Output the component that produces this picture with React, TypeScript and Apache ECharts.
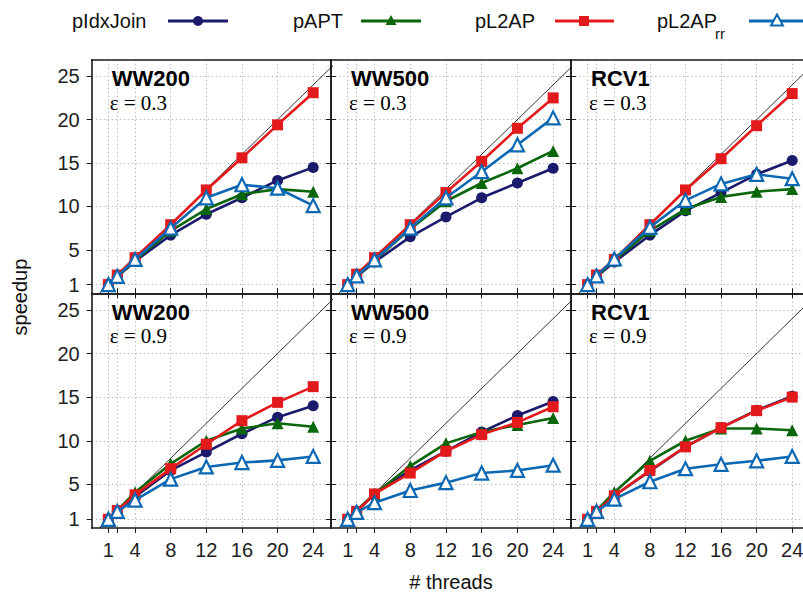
import React, { useEffect, useRef } from "react";
import * as echarts from "echarts";

const threads = [1, 2, 4, 8, 12, 16, 20, 24];
const xTickValues = [1, 2, 4, 8, 12, 16, 20, 24];
const xLabelValues = [1, 4, 8, 12, 16, 20, 24];
const yTickValues = [1, 5, 10, 15, 20, 25];

const methods = ["pIdxJoin", "pAPT", "pL2AP", "pL2AP_rr"];

// Panel data (speedup per thread count)
const ww200_e03 = {
  pIdxJoin: [1, 1.9, 3.7, 6.7, 9.1, 11.0, 13.0, 14.5],
  pAPT: [1, 1.95, 3.8, 7.2, 9.7, 11.4, 12.0, 11.7],
  pL2AP: [1, 2.1, 4.1, 7.9, 11.9, 15.6, 19.4, 23.1],
  pL2AP_rr: [1, 1.95, 3.9, 7.5, 11.0, 12.5, 12.1, 10.1],
};
const ww500_e03 = {
  pIdxJoin: [1, 1.9, 3.6, 6.5, 8.8, 11.0, 12.7, 14.4],
  pAPT: [1, 1.95, 3.8, 7.4, 10.6, 12.7, 14.4, 16.4],
  pL2AP: [1, 2.2, 4.1, 7.9, 11.6, 15.2, 19.0, 22.5],
  pL2AP_rr: [1, 2.0, 3.85, 7.5, 11.0, 14.0, 17.1, 20.2],
};
const rcv1_e03 = {
  pIdxJoin: [1, 1.9, 3.6, 6.7, 9.5, 11.6, 13.7, 15.3],
  pAPT: [1, 1.95, 3.8, 7.2, 9.7, 11.1, 11.7, 12.0],
  pL2AP: [1, 2.1, 3.9, 7.9, 11.9, 15.5, 19.3, 23.0],
  pL2AP_rr: [1, 2.0, 3.95, 7.6, 10.7, 12.6, 13.7, 13.2],
};
const ww200_e09 = {
  pIdxJoin: [1, 1.9, 3.6, 6.6, 8.7, 10.8, 12.7, 14.0],
  pAPT: [1, 2.0, 4.1, 7.35, 10.0, 11.4, 12.0, 11.6],
  pL2AP: [1, 2.0, 3.8, 6.8, 9.6, 12.3, 14.4, 16.2],
  pL2AP_rr: [1, 1.9, 3.2, 5.6, 7.0, 7.5, 7.75, 8.2],
};
const ww500_e09 = {
  pIdxJoin: [1, 1.9, 3.9, 6.6, 8.8, 11.0, 12.9, 14.5],
  pAPT: [1, 2.0, 3.9, 7.1, 9.7, 11.0, 11.8, 12.6],
  pL2AP: [1, 1.9, 3.9, 6.3, 8.8, 10.7, 12.1, 13.9],
  pL2AP_rr: [1, 1.8, 2.9, 4.3, 5.2, 6.3, 6.6, 7.2],
};
const rcv1_e09 = {
  pIdxJoin: [1, 1.9, 3.7, 6.5, 9.3, 11.5, 13.5, 15.1],
  pAPT: [1, 2.0, 4.1, 7.7, 10.0, 11.4, 11.4, 11.2],
  pL2AP: [1, 1.9, 3.7, 6.6, 9.3, 11.5, 13.45, 15.0],
  pL2AP_rr: [1, 1.9, 3.3, 5.3, 6.8, 7.3, 7.7, 8.2],
};

const panelNames = ["WW200", "WW500", "RCV1", "WW200", "WW500", "RCV1"];
const panelEps = ["ε = 0.3", "ε = 0.3", "ε = 0.3", "ε = 0.9", "ε = 0.9", "ε = 0.9"];
const panelData = [ww200_e03, ww500_e03, rcv1_e03, ww200_e09, ww500_e09, rcv1_e09];

const COLORS: Record<string, string> = {
  pIdxJoin: "#1b1a6c",
  pAPT: "#0a660a",
  pL2AP: "#e31a1c",
  pL2AP_rr: "#0d68b3",
};

const colLeft = [91.7, 331, 571];
const colWidth = [239.3, 240, 239];
const rowTop = [59.7, 293.3];
const rowHeight = [233.6, 234.7];

const XMIN = -0.87;
const XMAX = 26;
const YMIN = 0;
const YMAX = 26.9;

const SANS = "Liberation Sans, Arial, sans-serif";
const SERIF = "Liberation Serif, Times New Roman, serif";
const AXIS_COLOR = "#1a1a1a";

function symbolFor(m: string) {
  if (m === "pIdxJoin") return { symbol: "circle", symbolSize: 11 };
  if (m === "pAPT") return { symbol: "triangle", symbolSize: 12 };
  if (m === "pL2AP") return { symbol: "rect", symbolSize: 11 };
  return { symbol: "triangle", symbolSize: 13 };
}

export default function App() {
  const ref = useRef<HTMLDivElement>(null);

  useEffect(() => {
    document.body.style.margin = "0";
    if (!ref.current) return;
    const chart = echarts.init(ref.current, null, { renderer: "svg" });

    const grids: any[] = [];
    const xAxes: any[] = [];
    const yAxes: any[] = [];
    const series: any[] = [];
    const graphics: any[] = [];
    const gridLine = { show: true, lineStyle: { color: "#bdbdbd", type: [1.5, 2.5], width: 1 } };

    for (let p = 0; p < 6; p++) {
      const row = Math.floor(p / 3);
      const col = p % 3;
      grids.push({
        left: colLeft[col],
        top: rowTop[row],
        width: colWidth[col],
        height: rowHeight[row],
        outerBoundsMode: "none",
        containLabel: false,
        show: false,
      });
    }
    // main axes
    for (let p = 0; p < 6; p++) {
      const row = Math.floor(p / 3);
      const col = p % 3;
      xAxes.push({
        type: "value",
        gridIndex: p,
        position: "bottom",
        min: XMIN,
        max: XMAX,
        axisLine: { show: true, onZero: false, lineStyle: { color: AXIS_COLOR, width: 1.6 } },
        axisTick: { show: true, inside: false, length: 5, customValues: xTickValues, lineStyle: { color: AXIS_COLOR, width: 1 } },
        axisLabel: {
          show: row === 1,
          customValues: xLabelValues,
          fontSize: 20,
          fontFamily: SANS,
          color: "#222",
          margin: 12,
        },
        splitLine: gridLine,
      });
      yAxes.push({
        type: "value",
        gridIndex: p,
        position: "left",
        min: YMIN,
        max: YMAX,
        axisLine: { show: true, onZero: false, lineStyle: { color: AXIS_COLOR, width: 1.6 } },
        axisTick: { show: true, inside: false, length: 5, customValues: yTickValues, lineStyle: { color: AXIS_COLOR, width: 1 } },
        axisLabel: {
          show: col === 0,
          customValues: yTickValues,
          fontSize: 20,
          fontFamily: SANS,
          color: "#222",
          margin: 12,
        },
        splitLine: gridLine,
      });
    }
    // mirror axes
    for (let p = 0; p < 6; p++) {
      const row = Math.floor(p / 3);
      const col = p % 3;
      xAxes.push({
        type: "value",
        gridIndex: p,
        position: "top",
        min: XMIN,
        max: XMAX,
        axisLine: { show: true, onZero: false, lineStyle: { color: AXIS_COLOR, width: 1.6 } },
        axisTick: { show: row === 1, inside: false, length: 5, customValues: xTickValues, lineStyle: { color: AXIS_COLOR, width: 1 } },
        axisLabel: { show: false },
        splitLine: { show: false },
      });
      yAxes.push({
        type: "value",
        gridIndex: p,
        position: "right",
        min: YMIN,
        max: YMAX,
        axisLine: { show: true, onZero: false, lineStyle: { color: AXIS_COLOR, width: 1.6 } },
        axisTick: { show: col < 2, inside: false, length: 5, customValues: yTickValues, lineStyle: { color: AXIS_COLOR, width: 1 } },
        axisLabel: { show: false },
        splitLine: { show: false },
      });
    }

    for (let p = 0; p < 6; p++) {
      const row = Math.floor(p / 3);
      const col = p % 3;
      // ideal speedup diagonal
      series.push({
        type: "line",
        xAxisIndex: p,
        yAxisIndex: p,
        data: [
          [0, 0],
          [30, 30],
        ],
        symbol: "none",
        clip: true,
        silent: true,
        lineStyle: { color: "#000", width: 0.8 },
        z: 1,
      });
      const d: any = panelData[p];
      methods.forEach((m, mi) => {
        const s = symbolFor(m);
        const isRR = m === "pL2AP_rr";
        series.push({
          type: "line",
          name: m,
          xAxisIndex: p,
          yAxisIndex: p,
          data: threads.map((t, i) => [t, d[m][i]]),
          symbol: s.symbol,
          symbolSize: s.symbolSize,
          showSymbol: true,
          clip: false,
          lineStyle: { color: COLORS[m], width: 2.6 },
          itemStyle: isRR
            ? { color: "#ffffff", borderColor: COLORS[m], borderWidth: 2.2 }
            : { color: COLORS[m], borderWidth: 0 },
          z: 2 + mi,
        });
      });
      // panel titles
      graphics.push({
        type: "text",
        x: colLeft[col] + 20,
        y: rowTop[row] + 19,
        style: {
          text: panelNames[p],
          font: `bold 22px ${SANS}`,
          fill: "#000",
          verticalAlign: "middle",
          align: "left",
        },
        z: 100,
      });
      graphics.push({
        type: "text",
        x: colLeft[col] + 18,
        y: rowTop[row] + 43,
        style: {
          text: panelEps[p],
          font: `21px ${SERIF}`,
          fill: "#000",
          verticalAlign: "middle",
          align: "left",
          lineHeight: 20,
        },
        z: 100,
      });
    }

    // axis titles
    graphics.push({
      type: "text",
      x: 20,
      y: 297,
      rotation: Math.PI / 2,
      style: { text: "speedup", font: `20px ${SANS}`, fill: "#111", align: "center", verticalAlign: "middle" },
    });
    graphics.push({
      type: "text",
      x: 451,
      y: 582,
      style: { text: "# threads", font: `20px ${SANS}`, fill: "#111", align: "center", verticalAlign: "middle" },
    });

    // legend (gnuplot style: text then sample)
    const LY = 21;
    const legendItems = [
      { m: "pIdxJoin", tx: 72, l0: 168, l1: 228, mk: 198 },
      { m: "pAPT", tx: 293, l0: 361, l1: 421, mk: 391 },
      { m: "pL2AP", tx: 475, l0: 555, l1: 614, mk: 584 },
      { m: "pL2AP_rr", tx: 657, l0: 749, l1: 809, mk: 777 },
    ];
    legendItems.forEach((it) => {
      const label = it.m === "pL2AP_rr" ? "pL2AP" : it.m;
      graphics.push({
        type: "text",
        x: it.tx,
        y: LY,
        style: { text: label, font: `20px ${SANS}`, fill: "#111", align: "left", verticalAlign: "middle" },
      });
      if (it.m === "pL2AP_rr") {
        graphics.push({
          type: "text",
          x: it.tx + 58,
          y: LY + 12,
          style: { text: "rr", font: `15px ${SANS}`, fill: "#111", align: "left", verticalAlign: "middle" },
        });
      }
      const c = COLORS[it.m];
      graphics.push({
        type: "line",
        shape: { x1: it.l0, y1: LY, x2: it.l1, y2: LY },
        style: { stroke: c, lineWidth: 2.8 },
      });
      if (it.m === "pIdxJoin") {
        graphics.push({ type: "circle", shape: { cx: it.mk, cy: LY, r: 5 }, style: { fill: c } });
      } else if (it.m === "pAPT") {
        graphics.push({
          type: "polygon",
          shape: { points: [[it.mk, LY - 6], [it.mk - 5.5, LY + 4], [it.mk + 5.5, LY + 4]] },
          style: { fill: c },
        });
      } else if (it.m === "pL2AP") {
        graphics.push({ type: "rect", shape: { x: it.mk - 5, y: LY - 5, width: 10, height: 10 }, style: { fill: c } });
      } else {
        graphics.push({
          type: "polygon",
          shape: { points: [[it.mk, LY - 6.5], [it.mk - 6, LY + 4.5], [it.mk + 6, LY + 4.5]] },
          style: { fill: "#fff", stroke: c, lineWidth: 2 },
        });
      }
    });

    chart.setOption({
      animation: false,
      backgroundColor: "#fff",
      grid: grids,
      xAxis: xAxes,
      yAxis: yAxes,
      series,
      graphic: { elements: graphics },
    });

    return () => chart.dispose();
  }, []);

  return <div ref={ref} style={{ width: 803, height: 596 }} />;
}
